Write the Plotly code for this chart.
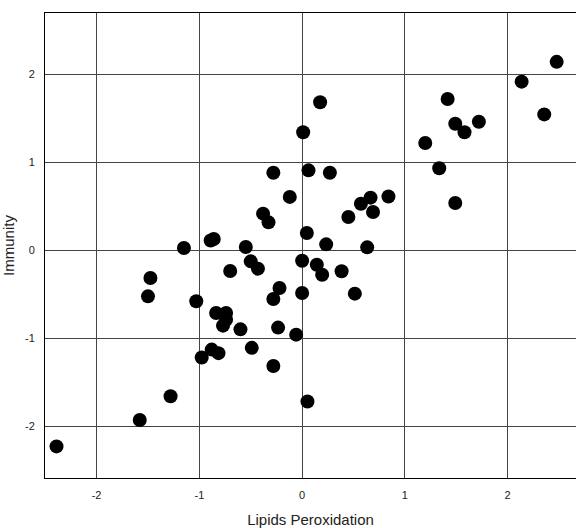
import plotly.graph_objects as go

lipids_peroxidation = [
    -2.39, -1.58, -1.28, -1.476, -1.50, -1.15, -0.89, -0.86, -0.548, -0.38,
    -0.327, 0.175, 0.01, -0.28, 0.062, 0.27, -0.12, 0.046, 0.234, 0.45,
    0.572, 0.666, 0.69, 0.633, -0.50, -0.43, -0.70, 0.0, 0.143, 0.195,
    0.384, 1.334, 1.49, 0.84, 0.0, 0.513, -1.03, -0.22, -0.28, -0.837,
    -0.74, -0.74, -0.77, -0.60, -0.234, -0.058, -0.49, -0.88, -0.814, -0.977,
    -0.28, 0.052, 1.416, 1.49, 1.58, 1.72, 1.198, 2.136, 2.477, 2.356,
]
immunity = [
    -2.23, -1.93, -1.66, -0.316, -0.525, 0.025, 0.11, 0.127, 0.036, 0.415,
    0.316, 1.68, 1.34, 0.88, 0.907, 0.88, 0.605, 0.195, 0.066, 0.377,
    0.528, 0.597, 0.434, 0.032, -0.127, -0.21, -0.237, -0.12, -0.165, -0.28,
    -0.24, 0.93, 0.536, 0.61, -0.486, -0.494, -0.58, -0.43, -0.555, -0.714,
    -0.714, -0.79, -0.858, -0.90, -0.88, -0.96, -1.11, -1.13, -1.17, -1.22,
    -1.316, -1.72, 1.718, 1.437, 1.34, 1.46, 1.218, 1.915, 2.14, 1.543,
]
tick_values = [-2, -1, 0, 1, 2]
tick_labels = ["-2", "-1", "0", "1", "2"]

fig = go.Figure(
    go.Scatter(
        x=lipids_peroxidation,
        y=immunity,
        mode="markers",
        marker=dict(size=14, color="black", line=dict(width=0)),
        showlegend=False,
    )
)

axis_common = dict(
    tickvals=tick_values,
    ticktext=tick_labels,
    showgrid=True,
    gridcolor="#444444",
    gridwidth=1,
    zeroline=False,
    showline=True,
    linecolor="black",
    linewidth=1,
    ticks="",
    tickfont=dict(family="Liberation Sans, Arial, sans-serif", size=11, color="#222222"),
    ticklabelstandoff=7,
)

fig.update_layout(
    width=576,
    height=528,
    margin=dict(l=45, r=0, t=13, b=50),
    plot_bgcolor="white",
    paper_bgcolor="white",
    font=dict(family="Liberation Sans, Arial, sans-serif", color="#222222"),
    xaxis=dict(
        range=[-2.502, 2.665],
        mirror=True,
        title=dict(text="Lipids Peroxidation", font=dict(size=15), standoff=15),
        **axis_common,
    ),
    yaxis=dict(
        range=[-2.589, 2.695],
        mirror=False,
        title=dict(text="Immunity", font=dict(size=15), standoff=14),
        **axis_common,
    ),
)

fig.write_html(
    "out.html",
    config={"displayModeBar": False},
    post_script="document.body.style.margin='0';document.body.style.overflow='hidden';",
)
